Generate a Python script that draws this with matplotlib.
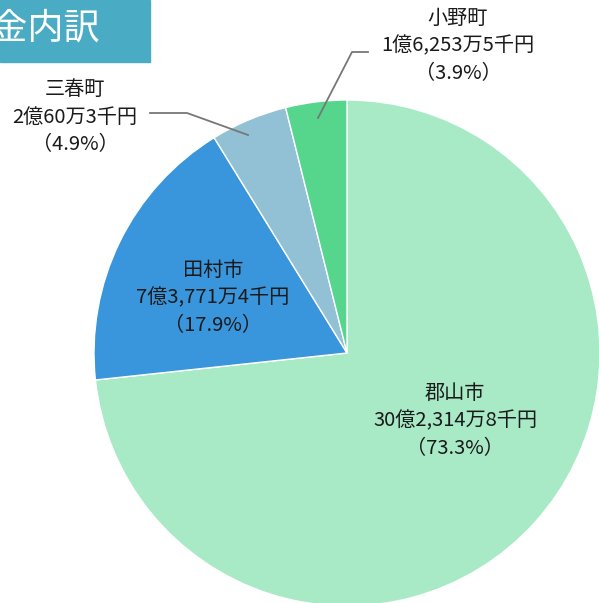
import numpy as np
import matplotlib
matplotlib.use('Agg')
import matplotlib.pyplot as plt
from matplotlib.patches import Rectangle

plt.rcParams['font.family'] = ['Noto Sans CJK JP', 'DejaVu Sans']

# data
towns = ['郡山市', '田村市', '三春町', '小野町']
amounts = ['30億2,314万8千円', '7億3,771万4千円', '2億60万3千円', '1億6,253万5千円']
shares = [73.3, 17.9, 4.9, 3.9]
colors = ['#a8e9c6', '#3996dc', '#92c1d5', '#56d68c']
title = '交付金内訳'

W, H = 599, 603
fig = plt.figure(figsize=(W / 100, H / 100), dpi=100)

# pie centre and radius in pixels
cx, cy, r = 347, 353, 253
ax = fig.add_axes([(cx - r) / W, (H - cy - r) / H, 2 * r / W, 2 * r / H])
ax.pie(shares, colors=colors, startangle=90, counterclock=False, radius=1,
       wedgeprops=dict(edgecolor='white', linewidth=1.0))
ax.set_xlim(-1, 1)
ax.set_ylim(-1, 1)
ax.set_aspect('equal')
ax.axis('off')


def px(x, y):
    return (x - cx) / r, (cy - y) / r


# label centres (pixels)
label_pos = [(455, 421), (213, 298), (75, 117), (458, 46)]
for i in range(len(towns)):
    txt = f'{towns[i]}\n{amounts[i]}\n（{shares[i]}%）'
    x, y = px(*label_pos[i])
    ax.text(x, y, txt, ha='center', va='center', fontsize=14.5,
            color='#1a1a1a', linespacing=1.38, clip_on=False)

# leader lines
leaders = [
    [(150, 113), (187, 113), (248, 135)],
    [(368, 52), (352, 52), (318, 118)],
]
for pts in leaders:
    xs, ys = zip(*[px(*p) for p in pts])
    ax.plot(xs, ys, color='#777777', linewidth=1.3, clip_on=False)

# title box in top-left corner
fig.patches.append(Rectangle((0, 1 - 62 / H), 150 / W, 62 / H,
                             transform=fig.transFigure, color='#4aabc4'))
fig.text(100 / W, 1 - 30 / H, title, ha='right', va='center',
         fontsize=26, color='white')

fig.savefig('out.png', dpi=100)
